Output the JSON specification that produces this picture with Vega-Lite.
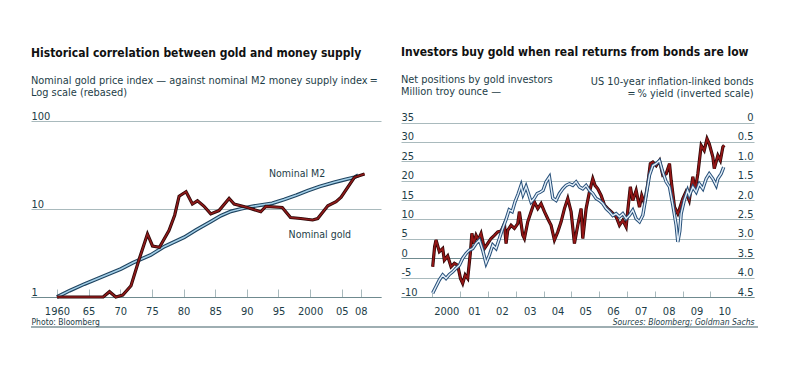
{
  "$schema": "https://vega.github.io/schema/vega-lite/v6.json",
  "background": "white",
  "padding": {"left": 30, "top": 45, "right": 43, "bottom": 30},
  "config": {
    "font": "Liberation Sans Narrow, DejaVu Sans Condensed, Roboto, sans-serif",
    "view": {"stroke": null},
    "axis": {
      "labelColor": "#1d3d47", "titleColor": "#1d3d47", "labelFontSize": 11,
      "labelFont": "Liberation Sans Narrow, DejaVu Sans Condensed, Roboto, sans-serif",
      "titleFont": "Liberation Sans Narrow, DejaVu Sans Condensed, Roboto, sans-serif",
      "gridColor": "#a9babd", "gridOpacity": 1, "tickColor": "#a9babd", "domainColor": "#6f8a8f",
      "labelFlush": false, "labelOverlap": false, "titleFontWeight": "normal"
    },
    "title": {
      "anchor": "start", "color": "#111111", "fontSize": 12.0, "fontWeight": "bold",
      "font": "Liberation Sans Narrow, DejaVu Sans Condensed, Roboto, sans-serif",
      "subtitleFont": "Liberation Sans Narrow, DejaVu Sans Condensed, Roboto, sans-serif",
      "subtitleColor": "#1d3d47", "subtitleFontSize": 10.9, "subtitleLineHeight": 12.5, "subtitlePadding": 15
    }
  },
  "datasets": {
    "m2": [
      {"year": 1960, "value": 1.0}, {"year": 1962, "value": 1.18}, {"year": 1964.3, "value": 1.4},
      {"year": 1966, "value": 1.57}, {"year": 1968, "value": 1.8}, {"year": 1970.1, "value": 2.08},
      {"year": 1972, "value": 2.45}, {"year": 1974.8, "value": 3.0}, {"year": 1977, "value": 3.75},
      {"year": 1980.1, "value": 4.77}, {"year": 1982, "value": 5.8}, {"year": 1984.3, "value": 7.2},
      {"year": 1985.9, "value": 8.4}, {"year": 1987.5, "value": 9.4}, {"year": 1989, "value": 10.0},
      {"year": 1990.5, "value": 10.6}, {"year": 1992.2, "value": 11.1}, {"year": 1994, "value": 11.6},
      {"year": 1995.9, "value": 12.8}, {"year": 1997.8, "value": 14.3}, {"year": 1999.6, "value": 16.1},
      {"year": 2001.5, "value": 18.0}, {"year": 2003.8, "value": 20.1}, {"year": 2005.5, "value": 21.6},
      {"year": 2007, "value": 22.9}, {"year": 2007.6, "value": 24.2}
    ],
    "gold": [
      {"year": 1960, "value": 1.0}, {"year": 1962, "value": 1.0}, {"year": 1964, "value": 1.0},
      {"year": 1966, "value": 1.0}, {"year": 1967.3, "value": 1.0}, {"year": 1968.3, "value": 1.15},
      {"year": 1969.3, "value": 1.0}, {"year": 1970.4, "value": 1.05}, {"year": 1971.7, "value": 1.34},
      {"year": 1973, "value": 2.7}, {"year": 1974.3, "value": 5.2}, {"year": 1975.1, "value": 3.8},
      {"year": 1976.2, "value": 3.67}, {"year": 1977.7, "value": 5.7}, {"year": 1978.6, "value": 8.5},
      {"year": 1979.3, "value": 14.0}, {"year": 1980.4, "value": 15.7}, {"year": 1981.4, "value": 11.4},
      {"year": 1982.2, "value": 12.4}, {"year": 1983.2, "value": 10.8}, {"year": 1984.3, "value": 8.8},
      {"year": 1985.6, "value": 9.6}, {"year": 1987.2, "value": 13.2}, {"year": 1988, "value": 11.4},
      {"year": 1990.1, "value": 10.4}, {"year": 1992.2, "value": 9.3}, {"year": 1993, "value": 10.7},
      {"year": 1995.6, "value": 10.4}, {"year": 1996.9, "value": 8.0}, {"year": 1998.5, "value": 7.8},
      {"year": 2000.4, "value": 7.5}, {"year": 2001.2, "value": 7.8}, {"year": 2002.8, "value": 10.9},
      {"year": 2004.1, "value": 12.1}, {"year": 2004.9, "value": 13.6}, {"year": 2007, "value": 22.9},
      {"year": 2008.6, "value": 25.0}
    ],
    "leftLabels": [
      {"year": 1993.5, "value": 25, "label": "Nominal M2"},
      {"year": 1996.6, "value": 5.07, "label": "Nominal gold"}
    ],
    "positions": [
      {"year": 2000.01, "value": -2.2}, {"year": 2000.08, "value": 3.0}, {"year": 2000.13, "value": 4.7},
      {"year": 2000.25, "value": 1.7}, {"year": 2000.37, "value": 2.5}, {"year": 2000.43, "value": -0.5},
      {"year": 2000.55, "value": 0.6}, {"year": 2000.67, "value": -2.2}, {"year": 2000.79, "value": -1.3},
      {"year": 2000.91, "value": -1.8}, {"year": 2001.01, "value": -5.2}, {"year": 2001.09, "value": -6.5},
      {"year": 2001.18, "value": -4.3}, {"year": 2001.27, "value": -5.2}, {"year": 2001.37, "value": 1.7},
      {"year": 2001.42, "value": 6.4}, {"year": 2001.49, "value": 3.8}, {"year": 2001.57, "value": 5.9},
      {"year": 2001.65, "value": 4.7}, {"year": 2001.75, "value": 6.4}, {"year": 2001.87, "value": 2.5},
      {"year": 2001.99, "value": 3.8}, {"year": 2002.11, "value": 5.1}, {"year": 2002.23, "value": 5.9},
      {"year": 2002.35, "value": 6.8}, {"year": 2002.47, "value": 7.0}, {"year": 2002.59, "value": 8.9},
      {"year": 2002.65, "value": 3.8}, {"year": 2002.71, "value": 7.2}, {"year": 2002.83, "value": 8.5},
      {"year": 2002.95, "value": 7.7}, {"year": 2003.07, "value": 8.9}, {"year": 2003.13, "value": 12.0},
      {"year": 2003.25, "value": 6.0}, {"year": 2003.31, "value": 5.1}, {"year": 2003.43, "value": 9.4},
      {"year": 2003.55, "value": 12.0}, {"year": 2003.67, "value": 14.5}, {"year": 2003.79, "value": 12.8},
      {"year": 2003.91, "value": 14.1}, {"year": 2004.03, "value": 12.0}, {"year": 2004.15, "value": 10.2},
      {"year": 2004.27, "value": 8.5}, {"year": 2004.39, "value": 4.7}, {"year": 2004.51, "value": 6.8},
      {"year": 2004.63, "value": 9.4}, {"year": 2004.75, "value": 12.8}, {"year": 2004.87, "value": 15.4},
      {"year": 2004.99, "value": 12.0}, {"year": 2005.11, "value": 3.8}, {"year": 2005.23, "value": 8.5},
      {"year": 2005.35, "value": 12.8}, {"year": 2005.41, "value": 5.1}, {"year": 2005.53, "value": 12.8},
      {"year": 2005.65, "value": 17.1}, {"year": 2005.77, "value": 20.5}, {"year": 2005.85, "value": 18.8},
      {"year": 2005.95, "value": 17.9}, {"year": 2006.07, "value": 16.2}, {"year": 2006.19, "value": 13.7},
      {"year": 2006.31, "value": 12.8}, {"year": 2006.43, "value": 12.0}, {"year": 2006.61, "value": 10.7},
      {"year": 2006.73, "value": 8.5}, {"year": 2006.85, "value": 9.8}, {"year": 2006.97, "value": 8.1},
      {"year": 2007.03, "value": 12.4}, {"year": 2007.12, "value": 18.4}, {"year": 2007.21, "value": 14.9},
      {"year": 2007.33, "value": 17.5}, {"year": 2007.45, "value": 13.2}, {"year": 2007.53, "value": 16.2},
      {"year": 2007.63, "value": 14.1}, {"year": 2007.75, "value": 19.2}, {"year": 2007.84, "value": 24.4},
      {"year": 2007.93, "value": 24.8}, {"year": 2008.05, "value": 23.9}, {"year": 2008.17, "value": 25.2},
      {"year": 2008.29, "value": 21.4}, {"year": 2008.41, "value": 21.8}, {"year": 2008.53, "value": 24.4},
      {"year": 2008.59, "value": 20.1}, {"year": 2008.71, "value": 13.2}, {"year": 2008.83, "value": 11.5},
      {"year": 2008.88, "value": 12.5}, {"year": 2009.01, "value": 15.4}, {"year": 2009.12, "value": 17.1},
      {"year": 2009.24, "value": 14.9}, {"year": 2009.37, "value": 21.0}, {"year": 2009.45, "value": 17.5},
      {"year": 2009.55, "value": 21.8}, {"year": 2009.67, "value": 29.1}, {"year": 2009.78, "value": 27.8},
      {"year": 2009.88, "value": 30.8}, {"year": 2009.96, "value": 29.5}, {"year": 2010.09, "value": 26.1},
      {"year": 2010.14, "value": 23.1}, {"year": 2010.27, "value": 26.5}, {"year": 2010.36, "value": 25.2},
      {"year": 2010.45, "value": 28.7}, {"year": 2010.5, "value": 29.1}
    ],
    "tips": [
      {"year": 2000.01, "yield": 4.40}, {"year": 2000.13, "yield": 4.23}, {"year": 2000.25, "yield": 4.06},
      {"year": 2000.37, "yield": 3.93}, {"year": 2000.49, "yield": 4.02}, {"year": 2000.61, "yield": 3.92},
      {"year": 2000.73, "yield": 3.85}, {"year": 2000.85, "yield": 3.76}, {"year": 2000.97, "yield": 3.68},
      {"year": 2001.09, "yield": 3.50}, {"year": 2001.21, "yield": 3.38}, {"year": 2001.33, "yield": 3.29},
      {"year": 2001.45, "yield": 3.25}, {"year": 2001.57, "yield": 3.12}, {"year": 2001.69, "yield": 3.03},
      {"year": 2001.81, "yield": 3.29}, {"year": 2001.93, "yield": 3.63}, {"year": 2002.05, "yield": 3.42},
      {"year": 2002.17, "yield": 3.16}, {"year": 2002.29, "yield": 3.25}, {"year": 2002.41, "yield": 2.99},
      {"year": 2002.53, "yield": 2.73}, {"year": 2002.65, "yield": 2.50}, {"year": 2002.76, "yield": 2.25},
      {"year": 2002.87, "yield": 2.30}, {"year": 2002.97, "yield": 2.05}, {"year": 2003.08, "yield": 1.85},
      {"year": 2003.19, "yield": 1.62}, {"year": 2003.26, "yield": 1.85}, {"year": 2003.37, "yield": 1.65},
      {"year": 2003.44, "yield": 1.80}, {"year": 2003.55, "yield": 2.05}, {"year": 2003.66, "yield": 1.96},
      {"year": 2003.77, "yield": 1.83}, {"year": 2003.87, "yield": 1.80}, {"year": 2003.98, "yield": 1.75},
      {"year": 2004.09, "yield": 1.53}, {"year": 2004.21, "yield": 1.40}, {"year": 2004.33, "yield": 1.95},
      {"year": 2004.45, "yield": 2.01}, {"year": 2004.57, "yield": 1.83}, {"year": 2004.69, "yield": 1.71},
      {"year": 2004.81, "yield": 1.62}, {"year": 2004.93, "yield": 1.58}, {"year": 2005.05, "yield": 1.62},
      {"year": 2005.17, "yield": 1.53}, {"year": 2005.29, "yield": 1.66}, {"year": 2005.41, "yield": 1.71},
      {"year": 2005.53, "yield": 1.62}, {"year": 2005.65, "yield": 1.75}, {"year": 2005.77, "yield": 1.83},
      {"year": 2005.89, "yield": 1.96}, {"year": 2006.01, "yield": 2.01}, {"year": 2006.13, "yield": 2.09},
      {"year": 2006.25, "yield": 2.22}, {"year": 2006.37, "yield": 2.30}, {"year": 2006.49, "yield": 2.40},
      {"year": 2006.61, "yield": 2.35}, {"year": 2006.73, "yield": 2.43}, {"year": 2006.85, "yield": 2.35},
      {"year": 2006.97, "yield": 2.48}, {"year": 2007.09, "yield": 2.39}, {"year": 2007.21, "yield": 2.26},
      {"year": 2007.33, "yield": 2.48}, {"year": 2007.45, "yield": 2.56}, {"year": 2007.57, "yield": 2.39},
      {"year": 2007.69, "yield": 1.88}, {"year": 2007.81, "yield": 1.36}, {"year": 2007.93, "yield": 1.11},
      {"year": 2008.05, "yield": 1.06}, {"year": 2008.17, "yield": 0.98}, {"year": 2008.29, "yield": 1.28},
      {"year": 2008.41, "yield": 1.53}, {"year": 2008.53, "yield": 1.66}, {"year": 2008.65, "yield": 2.13},
      {"year": 2008.77, "yield": 2.65}, {"year": 2008.83, "yield": 3.08}, {"year": 2008.90, "yield": 2.80},
      {"year": 2008.95, "yield": 2.35}, {"year": 2009.06, "yield": 2.01}, {"year": 2009.18, "yield": 1.75},
      {"year": 2009.24, "yield": 1.88}, {"year": 2009.37, "yield": 1.66}, {"year": 2009.49, "yield": 1.79},
      {"year": 2009.60, "yield": 1.58}, {"year": 2009.73, "yield": 1.71}, {"year": 2009.85, "yield": 1.45},
      {"year": 2009.96, "yield": 1.32}, {"year": 2010.09, "yield": 1.45}, {"year": 2010.21, "yield": 1.62},
      {"year": 2010.27, "yield": 1.45}, {"year": 2010.39, "yield": 1.32}, {"year": 2010.48, "yield": 1.15}
    ],
    "rule": [{"from": 0, "to": 1}]
  },
  "vconcat": [
    {
      "hconcat": [
        {
          "width": 350,
          "height": 176,
          "title": {
            "text": "Historical correlation between gold and money supply",
            "subtitle": ["Nominal gold price index — against nominal M2 money supply index ═", "Log scale (rebased)"],
            "offset": 11
          },
          "encoding": {
            "x": {
              "field": "year", "type": "quantitative",
              "scale": {"domain": [1955.9, 2011.2], "nice": false, "zero": false},
              "axis": {
                "values": [1960, 1965, 1970, 1975, 1980, 1985, 1990, 1995, 2000, 2005, 2008],
                "labelExpr": "datum.value == 1960 || datum.value == 2000 ? format(datum.value, 'd') : format(datum.value % 100, '02d')",
                "grid": false, "tickSize": -8, "labelPadding": 16, "domain": true,
                "title": "Photo: Bloomberg", "titleAnchor": "start", "titleFontSize": 8.5, "titlePadding": 1
              }
            },
            "y": {
              "field": "value", "type": "quantitative",
              "scale": {"type": "log", "domain": [1, 100], "nice": false},
              "axis": {
                "values": [1, 10, 100], "format": "d", "orient": "left", "labelAlign": "left",
                "labelBaseline": "bottom", "labelPadding": 0, "ticks": false, "domain": false,
                "grid": true, "title": null
              }
            }
          },
          "layer": [
            {"data": {"name": "m2"}, "mark": {"type": "line", "stroke": "#1f4460", "strokeWidth": 3.8}},
            {"data": {"name": "m2"}, "mark": {"type": "line", "stroke": "#a3cfe8", "strokeWidth": 1.5}},
            {"data": {"name": "gold"}, "mark": {"type": "line", "stroke": "#2b0707", "strokeWidth": 3.2}},
            {"data": {"name": "gold"}, "mark": {"type": "line", "stroke": "#8e1a1a", "strokeWidth": 1.6}},
            {
              "data": {"name": "leftLabels"},
              "mark": {"type": "text", "align": "left", "baseline": "middle", "fontSize": 10.5, "color": "#1d3d47"},
              "encoding": {"text": {"field": "label"}}
            }
          ]
        },
        {
          "width": 353,
          "height": 176,
          "title": {
            "text": "Investors buy gold when real returns from bonds are low",
            "subtitle": ["Net positions by gold investors", "Million troy ounce —"],
            "offset": -23
          },
          "encoding": {
            "x": {
              "field": "year", "type": "quantitative",
              "scale": {"domain": [1998.87, 2011.57], "nice": false, "zero": false},
              "axis": {
                "values": [2000, 2001, 2002, 2003, 2004, 2005, 2006, 2007, 2008, 2009, 2010],
                "labelExpr": "datum.value == 2000 ? '2000' : format(datum.value % 100, '02d')",
                "labelOffset": 13.9, "grid": false, "tickSize": -6, "labelPadding": 14, "domain": true,
                "title": "Sources: Bloomberg; Goldman Sachs", "titleAnchor": "end", "titleFontStyle": "italic",
                "titleFontSize": 8.5, "titlePadding": 1
              }
            }
          },
          "layer": [
            {
              "data": {"name": "positions"},
              "encoding": {
                "y": {
                  "field": "value", "type": "quantitative",
                  "scale": {"domain": [-10, 35.4], "nice": false, "zero": false},
                  "axis": {
                    "values": [-10, -5, 0, 5, 10, 15, 20, 25, 30, 35],
                    "labelExpr": "datum.value < 0 ? '-' + format(-datum.value, 'd') : format(datum.value, 'd')",
                    "orient": "left", "labelAlign": "left", "labelBaseline": "bottom", "labelPadding": 0,
                    "ticks": false, "domain": false, "grid": true, "title": null,
                    "gridColor": {"condition": {"test": "datum.value === 0", "value": "#6f8a8f"}, "value": "#a9babd"}
                  }
                }
              },
              "layer": [
                {"mark": {"type": "line", "stroke": "#2a0606", "strokeWidth": 3.2}},
                {"mark": {"type": "line", "stroke": "#931616", "strokeWidth": 1.8}}
              ]
            },
            {
              "data": {"name": "tips"},
              "encoding": {
                "y": {
                  "field": "yield", "type": "quantitative",
                  "scale": {"domain": [-0.04, 4.5], "reverse": true, "nice": false, "zero": false},
                  "axis": {
                    "values": [0, 0.5, 1, 1.5, 2, 2.5, 3, 3.5, 4, 4.5],
                    "labelExpr": "datum.value == 0 ? '0' : format(datum.value, '.1f')",
                    "orient": "right", "labelAlign": "right", "labelBaseline": "bottom", "labelPadding": -1,
                    "ticks": false, "domain": false, "grid": false,
                    "title": ["US 10-year inflation-linked bonds", "═ % yield (inverted scale)"],
                    "titleAngle": 0, "titleAlign": "right", "titleBaseline": "alphabetic",
                    "titleX": -1, "titleY": -37, "titleFontSize": 10.9, "titleLineHeight": 12.5
                  }
                }
              },
              "layer": [
                {"mark": {"type": "line", "stroke": "#27507a", "strokeWidth": 3.4}},
                {"mark": {"type": "line", "stroke": "#e3eef8", "strokeWidth": 1.4}}
              ]
            }
          ],
          "resolve": {"scale": {"y": "independent"}, "axis": {"y": "independent"}}
        }
      ],
      "spacing": 20,
      "bounds": "flush"
    },
    {
      "width": 727,
      "height": 1,
      "data": {"name": "rule"},
      "mark": {"type": "rule", "color": "#3f5f66", "strokeWidth": 1.2},
      "encoding": {
        "x": {"field": "from", "type": "quantitative", "scale": {"domain": [0, 1]}, "axis": null},
        "x2": {"field": "to"},
        "y": {"field": "from", "type": "quantitative", "scale": {"domain": [0, 1]}, "axis": null}
      }
    }
  ],
  "spacing": -6,
  "bounds": "full"
}
